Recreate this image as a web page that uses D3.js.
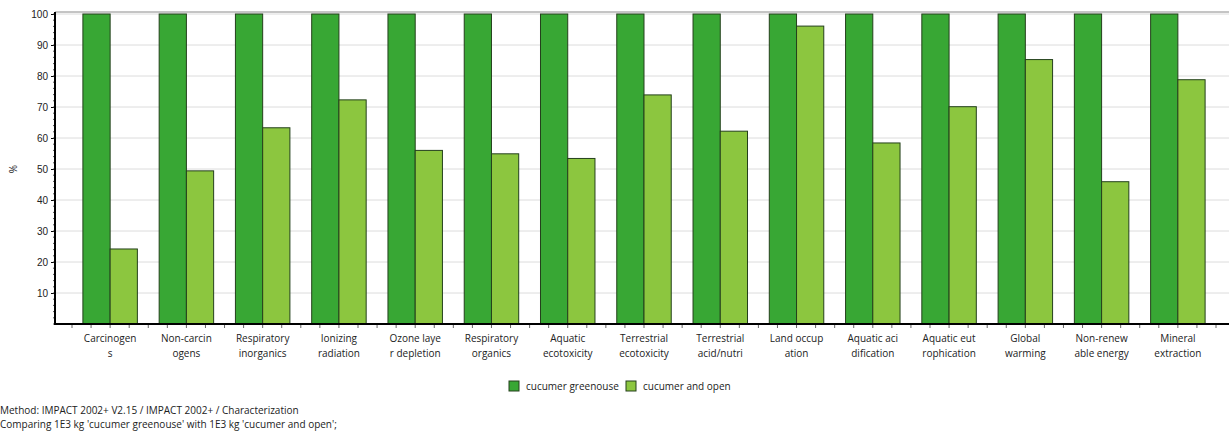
<!DOCTYPE html>
<html>
<head>
<meta charset="utf-8">
<script src="https://cdn.jsdelivr.net/npm/d3@7"></script>
<style>
  body { margin: 0; background: #fff; }
  svg { font-family: "Open Sans", "Noto Sans", sans-serif; }
</style>
</head>
<body>
<svg id="chart"></svg>
<script>
const categories = ["Carcinogens", "Non-carcinogens", "Respiratory inorganics", "Ionizing radiation",
  "Ozone layer depletion", "Respiratory organics", "Aquatic ecotoxicity", "Terrestrial ecotoxicity",
  "Terrestrial acid/nutri", "Land occupation", "Aquatic acidification", "Aquatic eutrophication",
  "Global warming", "Non-renewable energy", "Mineral extraction"];
const tickLabels = [["Carcinogen", "s"], ["Non-carcin", "ogens"], ["Respiratory", "inorganics"],
  ["Ionizing", "radiation"], ["Ozone laye", "r depletion"], ["Respiratory", "organics"],
  ["Aquatic", "ecotoxicity"], ["Terrestrial", "ecotoxicity"], ["Terrestrial", "acid/nutri"],
  ["Land occup", "ation"], ["Aquatic aci", "dification"], ["Aquatic eut", "rophication"],
  ["Global", "warming"], ["Non-renew", "able energy"], ["Mineral", "extraction"]];
const seriesNames = ["cucumer greenouse", "cucumer and open"];
const greenhouse = [100, 100, 100, 100, 100, 100, 100, 100, 100, 100, 100, 100, 100, 100, 100];
const openField = [24.2, 49.4, 63.3, 72.3, 56, 54.9, 53.4, 73.9, 62.2, 96.1, 58.4, 70.1, 85.3, 45.9, 78.8];
const yTicks = [10, 20, 30, 40, 50, 60, 70, 80, 90, 100];
const footer = ["Method: IMPACT 2002+ V2.15 / IMPACT 2002+  / Characterization",
  "Comparing 1E3 kg 'cucumer greenouse' with 1E3 kg 'cucumer and open';"];

const width = 1229, height = 432;
const axisLeft = 55, plotTop = 14, plotBottom = 324;
const colors = ["#38a734", "#8cc63f"];

const svg = d3.select("#chart").attr("width", width).attr("height", height);

const x = d3.scaleBand().domain(categories).range([72, 1216]);
const x1 = d3.scaleBand().domain(seriesNames).range([0, x.bandwidth()]).paddingOuter(0.4);
const y = d3.scaleLinear().domain([0, 100]).range([plotBottom, plotTop]);

// gridlines
svg.append("g")
  .selectAll("line")
  .data(yTicks)
  .join("line")
  .attr("x1", axisLeft).attr("x2", width)
  .attr("y1", d => y(d)).attr("y2", d => y(d))
  .attr("stroke", "#dcdcdc").attr("stroke-width", 1);

// top border
svg.append("line")
  .attr("x1", axisLeft).attr("x2", width)
  .attr("y1", plotTop - 2).attr("y2", plotTop - 2)
  .attr("stroke", "#8a8a8a").attr("stroke-width", 1);

// bars
const rows = categories.map((c, i) => ({ cat: c, vals: [greenhouse[i], openField[i]] }));
svg.append("g")
  .selectAll("g")
  .data(rows)
  .join("g")
  .attr("transform", d => `translate(${x(d.cat)},0)`)
  .selectAll("rect")
  .data(d => d.vals.map((v, j) => ({ name: seriesNames[j], v, j })))
  .join("rect")
  .attr("x", d => x1(d.name))
  .attr("width", x1.bandwidth())
  .attr("y", d => y(d.v))
  .attr("height", d => y(0) - y(d.v))
  .attr("fill", d => colors[d.j])
  .attr("stroke", "#24401c")
  .attr("stroke-width", 1);

// y axis
const yAxis = svg.append("g").attr("transform", `translate(${axisLeft},0)`);
yAxis.call(d3.axisLeft(y).tickValues(yTicks).tickSize(4).tickPadding(3));
yAxis.select(".domain").remove();
yAxis.selectAll(".tick line").attr("stroke", "#000");
yAxis.selectAll("text").attr("font-size", 10).attr("fill", "#222");
yAxis.selectAll(".minor")
  .data(d3.range(0, 101, 2))
  .join("line")
  .attr("class", "minor")
  .attr("x1", -2).attr("x2", 0)
  .attr("y1", d => y(d)).attr("y2", d => y(d))
  .attr("stroke", "#555");
yAxis.append("line")
  .attr("x1", 0).attr("x2", 0)
  .attr("y1", plotTop - 2).attr("y2", plotBottom + 1)
  .attr("stroke", "#000").attr("stroke-width", 2);

// x axis
const xAxis = svg.append("g").attr("transform", `translate(0,${plotBottom})`);
xAxis.append("line")
  .attr("x1", axisLeft - 1).attr("x2", width)
  .attr("stroke", "#000").attr("stroke-width", 2);
const quarterTicks = [];
categories.forEach(c => {
  for (let k = 0; k < 4; k++) quarterTicks.push(x(c) + k * x.bandwidth() / 4);
});
quarterTicks.push(x.range()[1]);
xAxis.selectAll(".xt")
  .data(quarterTicks)
  .join("line")
  .attr("class", "xt")
  .attr("x1", d => d).attr("x2", d => d)
  .attr("y1", 1).attr("y2", 4)
  .attr("stroke", "#666");

xAxis.selectAll(".xl")
  .data(categories)
  .join("text")
  .attr("class", "xl")
  .attr("text-anchor", "middle")
  .attr("font-size", 10)
  .attr("fill", "#222")
  .selectAll("tspan")
  .data((d, i) => tickLabels[i].map(t => ({ t, c: d })))
  .join("tspan")
  .attr("x", d => x(d.c) + x.bandwidth() / 2)
  .attr("y", (d, k) => 18 + k * 15)
  .text(d => d.t);

// y label
svg.append("text")
  .attr("transform", `translate(17,${(plotTop + plotBottom) / 2}) rotate(-90)`)
  .attr("text-anchor", "middle")
  .attr("font-size", 10)
  .attr("fill", "#222")
  .text("%");

// legend
const legend = svg.append("g").attr("transform", "translate(509,381)");
const lx = [0, 117];
seriesNames.forEach((n, i) => {
  legend.append("rect")
    .attr("x", lx[i]).attr("y", 0)
    .attr("width", 10).attr("height", 10)
    .attr("fill", colors[i]).attr("stroke", "#24401c");
  legend.append("text")
    .attr("x", lx[i] + 17).attr("y", 9)
    .attr("font-size", 10).attr("fill", "#222")
    .text(n);
});

// footer
svg.append("g")
  .selectAll("text")
  .data(footer)
  .join("text")
  .attr("x", 0)
  .attr("y", (d, i) => 414 + i * 14)
  .attr("font-size", 10)
  .attr("fill", "#222")
  .text(d => d);
</script>
</body>
</html>
